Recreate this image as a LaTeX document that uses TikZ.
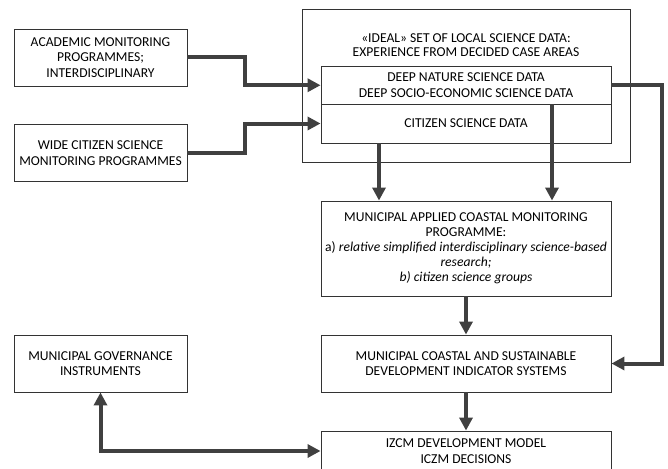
\documentclass[tikz,border=0pt]{standalone}
\usepackage{fontspec}
\setmainfont{Carlito}
\usetikzlibrary{arrows.meta}
\definecolor{flowgrey}{HTML}{404040}

\begin{document}
\begin{tikzpicture}[x=1pt,y=-1pt,
		box/.style={draw=black!80,line width=0.9pt,rectangle,inner sep=0pt,
			align=center,font=\fontsize{13.6}{15.5}\selectfont},
		leftbox/.style={box,minimum width=173pt,minimum height=57pt},
		rightbox/.style={box,minimum width=290pt},
		flow/.style={draw=flowgrey,line width=4pt,
			-{Triangle[length=13pt,width=13pt]}}]

		\useasboundingbox (0,0) rectangle (668,468);

		% left column
		\node[leftbox] (acad) at (100.5,57.5) {ACADEMIC MONITORING\\PROGRAMMES;\\INTERDISCIPLINARY};
		\node[leftbox] (wide) at (100.5,153) {WIDE CITIZEN SCIENCE\\MONITORING PROGRAMMES};
		\node[leftbox] (gov) at (100.5,363.5) {MUNICIPAL GOVERNANCE\\INSTRUMENTS};

		% local science data
		\node[box,minimum width=328pt,minimum height=153pt] (ideal) at (466,85.5) {};
		\node[align=center,inner sep=0pt,font=\fontsize{13.6}{14}\selectfont] (idealtitle) at (466,45.3)
			{«IDEAL» SET OF LOCAL SCIENCE DATA:\\EXPERIENCE FROM DECIDED CASE AREAS};
		\node[rightbox,minimum height=37.5pt] (deep) at (466,85.25) {DEEP NATURE SCIENCE DATA\\DEEP SOCIO-ECONOMIC SCIENCE DATA};
		\node[rightbox,minimum height=39pt] (citizen) at (466,123.5) {CITIZEN SCIENCE DATA};

		% municipal chain
		\node[rightbox,minimum height=95pt,font=\fontsize{13.6}{15}\selectfont] (applied) at (466,248.5)
			{MUNICIPAL APPLIED COASTAL MONITORING\\PROGRAMME:\\a) \textit{relative simplified interdisciplinary science-based}\\\textit{research;}\\\textit{b) citizen science groups}};
		\node[rightbox,minimum height=57pt] (indic) at (466,363.5) {MUNICIPAL COASTAL AND SUSTAINABLE\\DEVELOPMENT INDICATOR SYSTEMS};
		\node[rightbox,minimum height=40pt] (izcm) at (466,451) {IZCM DEVELOPMENT MODEL\\ICZM DECISIONS};

		\draw[flow] (acad.east) -- ++(58,0) |- (deep.west);
		\draw[flow] (wide.east) -- ++(58,0) |- (citizen.west);
		\draw[flow] ([xshift=-87pt]citizen.south) -- ([xshift=-87pt]applied.north);
		\draw[flow] ([xshift=86pt]deep.south) -- ([xshift=86pt]applied.north);
		\draw[flow] (deep.east) -- ++(51,0) |- (indic.east);
		\draw[flow] (applied) -- (indic);
		\draw[flow] (indic) -- (izcm);
		\draw[flow,{Triangle[length=13pt,width=13pt]}-{Triangle[length=13pt,width=13pt]}] (gov.south) |- (izcm.west);

	\end{tikzpicture}
\end{document}
